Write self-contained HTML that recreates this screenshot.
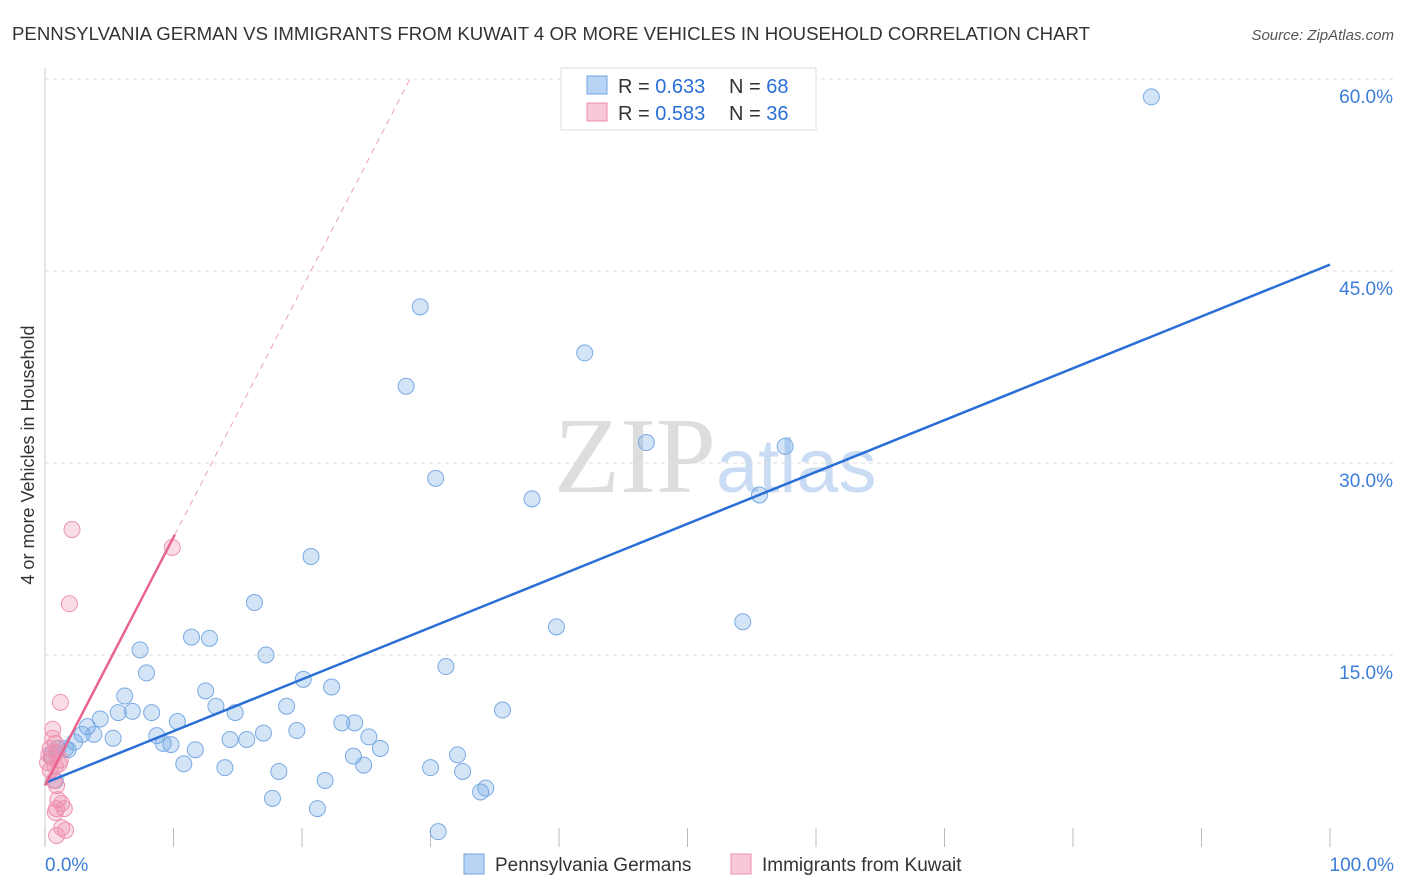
<!DOCTYPE html>
<html><head><meta charset="utf-8"><style>
body{margin:0;background:#fff;font-family:"Liberation Sans",sans-serif}
svg{display:block}
</style></head><body>
<svg id="chart" width="1406" height="892">
<text x="12" y="40" font-size="18" fill="#333" textLength="1078" lengthAdjust="spacingAndGlyphs">PENNSYLVANIA GERMAN VS IMMIGRANTS FROM KUWAIT 4 OR MORE VEHICLES IN HOUSEHOLD CORRELATION CHART</text>
<text x="1394" y="40" font-size="15" fill="#555" font-style="italic" text-anchor="end">Source: ZipAtlas.com</text>
<text x="716" y="492" font-size="108" fill="#ddd" font-family="Liberation Serif,serif" text-anchor="end">ZIP</text>
<text x="716" y="492" font-size="76" fill="#c9dcf3">atlas</text>
<text transform="translate(34,455) rotate(-90)" font-size="18" fill="#333" text-anchor="middle">4 or more Vehicles in Household</text>
<g id="grid"></g><g id="marks"></g>
<g>
<rect x="561" y="68" width="255" height="62" fill="#fff" stroke="#ddd"/>
<rect x="587" y="76" width="20" height="18" fill="#b9d3f5" stroke="#6fa3e0"/>
<text x="618" y="93" font-size="20" fill="#333">R = <tspan fill="#2a6fd6">0.633</tspan></text>
<text x="729" y="93" font-size="20" fill="#333">N = <tspan fill="#2a6fd6">68</tspan></text>
<rect x="587" y="103" width="20" height="18" fill="#f8c8d6" stroke="#eb8fae"/>
<text x="618" y="120" font-size="20" fill="#333">R = <tspan fill="#2a6fd6">0.583</tspan></text>
<text x="729" y="120" font-size="20" fill="#333">N = <tspan fill="#2a6fd6">36</tspan></text>
</g>
<g>
<rect x="464" y="854" width="20" height="20" fill="#b9d3f5" stroke="#6fa3e0"/>
<text x="495" y="871" font-size="19" fill="#333">Pennsylvania Germans</text>
<rect x="731" y="854" width="20" height="20" fill="#f8c8d6" stroke="#eb8fae"/>
<text x="762" y="871" font-size="19" fill="#333">Immigrants from Kuwait</text>
</g>
</svg>
<script>
const yTicks=[15,30,45,60];
const xTickLabels=["0.0%","100.0%"];
const blueX=[86.1,29.2,42.0,28.1,46.8,57.6,30.4,37.9,55.6,20.7,16.3,39.8,54.3,11.4,12.8,7.4,17.2,31.2,7.9,20.1,22.3,12.5,6.2,13.3,18.8,5.7,6.8,8.3,14.8,35.6,4.3,10.3,23.1,24.1,3.3,2.9,3.8,5.3,8.7,17.0,19.6,25.2,2.3,9.2,9.8,14.4,15.7,26.1,11.7,1.6,1.0,0.5,24.0,32.1,10.8,24.8,14.0,30.0,18.2,32.5,21.8,0.8,34.3,33.9,17.7,21.2,30.6,1.8];
const blueY=[58.6,42.2,38.6,36.0,31.6,31.3,28.8,27.2,27.5,22.7,19.1,17.2,17.6,16.4,16.3,15.4,15.0,14.1,13.6,13.1,12.5,12.2,11.8,11.0,11.0,10.5,10.6,10.5,10.5,10.7,10.0,9.8,9.7,9.7,9.4,8.8,8.8,8.5,8.7,8.9,9.1,8.6,8.2,8.1,8.0,8.4,8.4,7.7,7.6,7.7,7.7,7.2,7.1,7.2,6.5,6.4,6.2,6.2,5.9,5.9,5.2,5.2,4.6,4.3,3.8,3.0,1.2,7.6];
const pinkX=[2.1,9.9,1.9,1.2,0.6,0.6,0.8,0.4,0.9,0.5,1.2,0.2,0.8,0.4,0.7,0.9,1.0,1.3,0.9,1.5,0.8,1.3,1.6,0.9,0.3,1.1];
const pinkY=[24.8,23.4,19.0,11.3,9.2,8.5,8.1,7.7,7.4,7.0,6.8,6.6,6.3,6.0,5.2,4.8,3.7,3.4,3.0,3.0,2.7,1.5,1.3,0.9,7.2,6.5];
const blueLine=[0,5.0,100,45.5];
const pinkLine=[0,4.8,10.1,24.4,28.4,60];
const X=v=>45+v*12.85, Y=v=>847-v*12.8;
const NS="http://www.w3.org/2000/svg";
const grid=document.getElementById('grid'), marks=document.getElementById('marks');
function mk(tag,attrs,parent){const e=document.createElementNS(NS,tag);for(const k in attrs)e.setAttribute(k,attrs[k]);parent.appendChild(e);return e;}
yTicks.forEach(t=>{
  const l=mk('line',{x1:45,x2:1394,y1:Y(t),y2:Y(t),stroke:'#ddd','stroke-dasharray':'4,4'},grid);
  
  
  const tx=mk('text',{x:1393,y:Y(t)+24,'font-size':19,fill:'#3b7dd8','text-anchor':'end'},grid);
  tx.textContent=t.toFixed(1)+'%';
  
  
});
const ax=mk('line',{x1:45,x2:45,y1:68,y2:847,stroke:'#ccc'},grid);


for(let i=0;i<=10;i++){
  const t=mk('line',{x1:X(i*10),x2:X(i*10),y1:828,y2:847,stroke:'#bbb'},grid);
  
  
}
[[0,'start',45],[100,'end',1394]].forEach((p,i)=>{
  const tx=mk('text',{x:p[2],y:871,'font-size':19,fill:'#3b7dd8','text-anchor':p[1]},grid);
  tx.textContent=xTickLabels[i];
  
  
});
for(let i=0;i<blueX.length;i++){
  const c=mk('circle',{cx:X(blueX[i]),cy:Y(blueY[i]),r:8,fill:'rgba(110,165,230,0.3)',stroke:'#7aaae3','stroke-width':1},marks);
  
  
}
for(let i=0;i<pinkX.length;i++){
  const c=mk('circle',{cx:X(pinkX[i]),cy:Y(pinkY[i]),r:8,fill:'rgba(240,140,170,0.3)',stroke:'#ee93b2','stroke-width':1},marks);
  
  
}
const bl=mk('line',{x1:X(blueLine[0]),y1:Y(blueLine[1]),x2:X(blueLine[2]),y2:Y(blueLine[3]),stroke:'#2a6fd6','stroke-width':2.5},marks);


const pl=mk('line',{x1:X(pinkLine[0]),y1:Y(pinkLine[1]),x2:X(pinkLine[2]),y2:Y(pinkLine[3]),stroke:'#e8648f','stroke-width':2.5},marks);


const pd=mk('line',{x1:X(pinkLine[2]),y1:Y(pinkLine[3]),x2:X(pinkLine[4]),y2:Y(pinkLine[5]),stroke:'#eaa0b8','stroke-width':1,'stroke-dasharray':'6,5'},marks);


</script>
</body></html>
